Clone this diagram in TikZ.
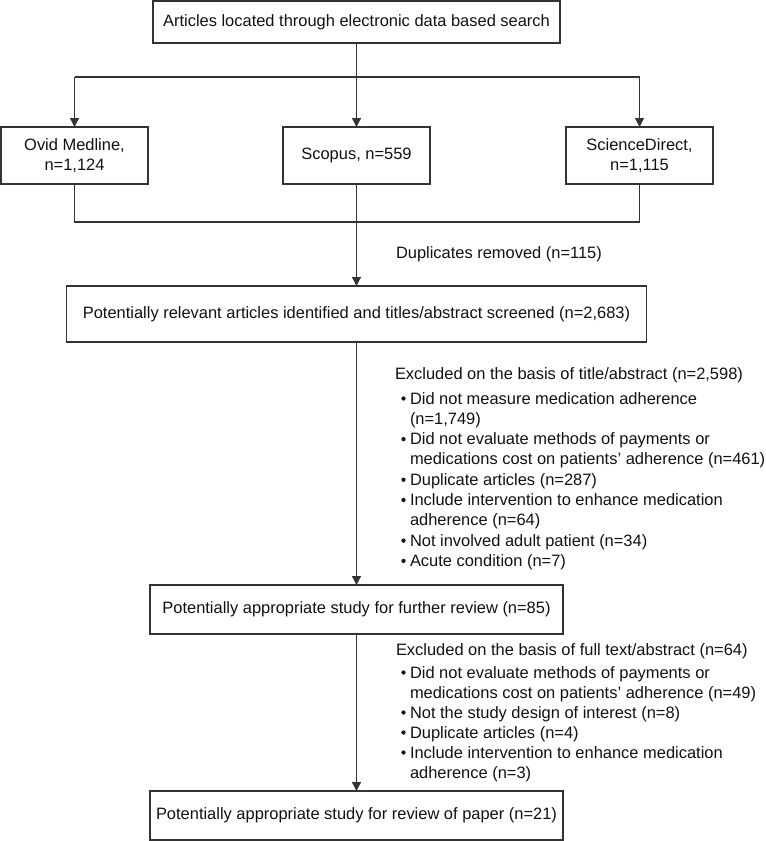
\documentclass[tikz,border=0pt]{standalone}
\usepackage{fontspec}
\setmainfont{Liberation Sans}
\usetikzlibrary{arrows.meta}
\definecolor{linecol}{HTML}{333333}
\definecolor{txtcol}{HTML}{111111}
\begin{document}
\begin{tikzpicture}[x=1pt,y=-1pt,
  every node/.style={font=\fontsize{16.45}{20}\selectfont, text=txtcol, inner sep=0pt, outer sep=0pt},
  box/.style={draw=linecol, line width=1.2pt, rectangle, align=center},
  conn/.style={draw=linecol, line width=1.2pt},
  arr/.style={conn, -{Triangle[length=9pt,width=9pt]}},
  lbl/.style={anchor=base west},
  dot/.style={circle, fill=txtcol, minimum size=4.3pt, inner sep=0pt}]
\useasboundingbox (0,0) rectangle (766,841);

% boxes
\node[box, minimum width=407, minimum height=42] (top) at (356.5,22) {Articles located through electronic data based search};
\node[box, minimum width=147, minimum height=57] (ovid) at (74.5,155.5) {Ovid Medline,\\n=1,124};
\node[box, minimum width=147, minimum height=57] (scopus) at (356.5,155.5) {Scopus, n=559};
\node[box, minimum width=147, minimum height=57] (scid) at (639.5,155.5) {ScienceDirect,\\n=1,115};
\node[box, minimum width=580, minimum height=56] (rel) at (356.5,314) {Potentially relevant articles identified and titles/abstract screened (n=2,683)};
\node[box, minimum width=413, minimum height=49] (fur) at (356.5,609.5) {Potentially appropriate study for further review (n=85)};
\node[box, minimum width=413, minimum height=49] (fin) at (356.5,815.5) {Potentially appropriate study for review of paper (n=21)};

% connectors
\coordinate (bar) at (356.5,77);
\coordinate (bot) at (356.5,222);
\draw[conn] (top.south) -- (bar);
\draw[conn] (bar -| ovid.north) -- (bar -| scid.north);
\draw[arr] (bar -| ovid.north) -- (ovid.north);
\draw[arr] (bar) -- (scopus.north);
\draw[arr] (bar -| scid.north) -- (scid.north);
\draw[conn] (ovid.south) -- (bot -| ovid.south) -- (bot -| scid.south) -- (scid.south);
\draw[arr] (scopus.south) -- (rel.north);
\draw[arr] (rel.south) -- (fur.north);
\draw[arr] (fur.south) -- (fin.north);

% labels
\node[lbl] (dup) at (396,258) {Duplicates removed (n=115)};

\node[lbl] (ex1) at (395,379) {Excluded on the basis of title/abstract (n=2,598)};
\node[dot] (d1a) at (403.5,398.5) {};
\node[lbl] (t1a) at (410,404) {Did not measure medication adherence};
\node[lbl] (t1b) at (410,424.3) {(n=1,749)};
\node[dot] (d1c) at (403.5,439.1) {};
\node[lbl] (t1c) at (410,444.6) {Did not evaluate methods of payments or};
\node[lbl] (t1d) at (410,464.9) {medications cost on patients’ adherence (n=461)};
\node[dot] (d1e) at (403.5,479.7) {};
\node[lbl] (t1e) at (410,485.2) {Duplicate articles (n=287)};
\node[dot] (d1f) at (403.5,500) {};
\node[lbl] (t1f) at (410,505.5) {Include intervention to enhance medication};
\node[lbl] (t1g) at (410,525.8) {adherence (n=64)};
\node[dot] (d1h) at (403.5,540.6) {};
\node[lbl] (t1h) at (410,546.1) {Not involved adult patient (n=34)};
\node[dot] (d1i) at (403.5,560.9) {};
\node[lbl] (t1i) at (410,566.4) {Acute condition (n=7)};

\node[lbl] (ex2) at (396,655) {Excluded on the basis of full text/abstract (n=64)};
\node[dot] (d2a) at (403.5,672.5) {};
\node[lbl] (t2a) at (410,678) {Did not evaluate methods of payments or};
\node[lbl] (t2b) at (410,698) {medications cost on patients’ adherence (n=49)};
\node[dot] (d2c) at (403.5,712.5) {};
\node[lbl] (t2c) at (410,718) {Not the study design of interest (n=8)};
\node[dot] (d2d) at (403.5,732.5) {};
\node[lbl] (t2d) at (410,738) {Duplicate articles (n=4)};
\node[dot] (d2e) at (403.5,752.5) {};
\node[lbl] (t2e) at (410,758) {Include intervention to enhance medication};
\node[lbl] (t2f) at (410,778) {adherence (n=3)};
\end{tikzpicture}
\end{document}
